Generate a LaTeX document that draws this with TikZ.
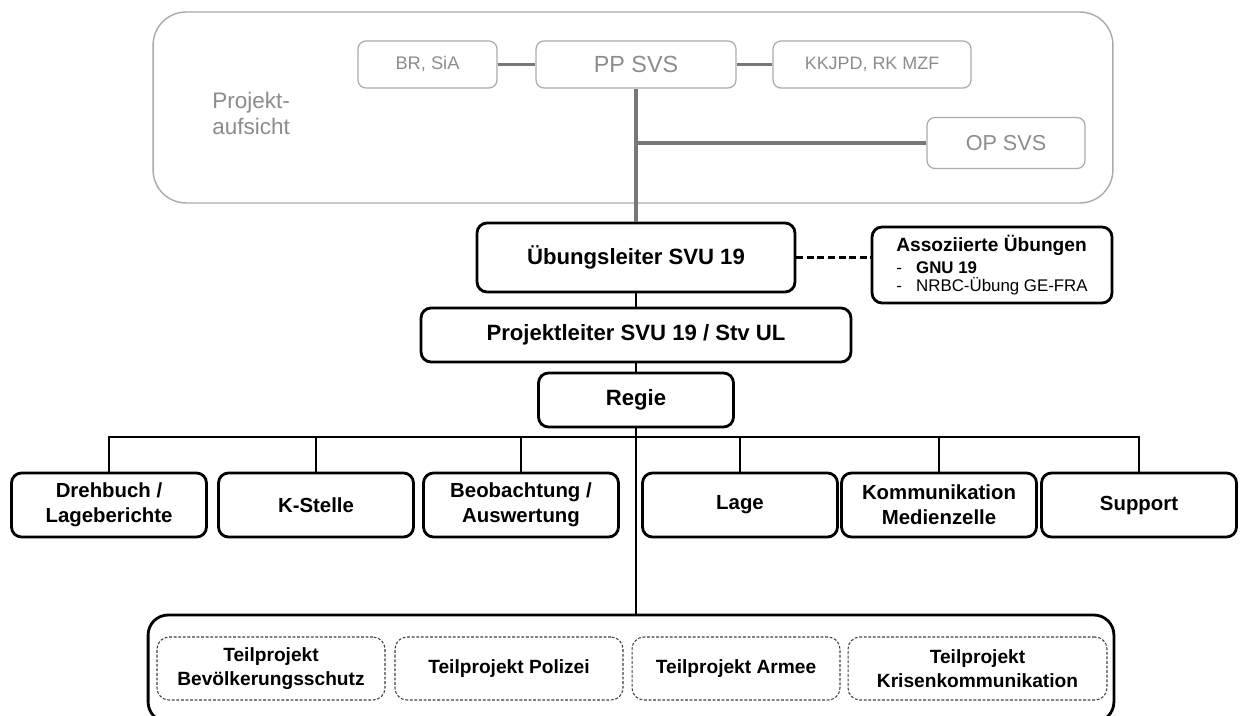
\documentclass[tikz,border=0pt]{standalone}
\usepackage{fontspec}
\setmainfont{Liberation Sans}
\begin{document}
\begin{tikzpicture}[x=0.02cm,y=-0.02cm,
  graybox/.style={draw=g2,line width=0.7pt,rounded corners=0.16cm,text=g3,inner sep=0pt,minimum height=0.94cm},
  grayline/.style={draw=g1,line width=2pt},
  mainbox/.style={draw,line width=1.6pt,rounded corners=0.2cm,inner sep=0pt,font=\bfseries\fontsize{12.6}{15}\selectfont},
  unitbox/.style={mainbox,minimum width=3.9cm,minimum height=1.28cm,align=center,font=\bfseries\fontsize{11.6}{14.2}\selectfont},
  tpbox/.style={draw=black!75,line width=0.6pt,dash pattern=on 1.6pt off 1pt,rounded corners=0.24cm,minimum height=1.26cm,inner sep=0pt,align=center,font=\bfseries\fontsize{10.9}{13.6}\selectfont},
  link/.style={line width=1.6pt}]
\definecolor{g1}{RGB}{120,120,120}
\definecolor{g2}{RGB}{170,170,170}
\definecolor{g3}{RGB}{140,140,140}
\clip (0,0) rectangle (1241,716);

% Projektaufsicht
\node[draw=g2,line width=0.8pt,rounded corners=0.66cm,minimum width=19.2cm,minimum height=3.82cm] (frame) at (633,107.5) {};
\node[anchor=west,align=left,text=g3,inner sep=0pt,font=\fontsize{12.8}{15.3}\selectfont] (aufsicht) at (212,113.5) {Projekt-\\aufsicht};
\node[graybox,minimum width=2.78cm,font=\fontsize{10.4}{12}\selectfont] (br) at (427.5,64.5) {BR, SiA};
\node[graybox,minimum width=4cm,font=\fontsize{13.3}{16}\selectfont] (pp) at (636,64.5) {PP SVS};
\node[graybox,minimum width=3.96cm,font=\fontsize{10.2}{12}\selectfont] (kk) at (872,64.5) {KKJPD, RK MZF};
\node[graybox,minimum width=3.16cm,minimum height=1.02cm,font=\fontsize{12.3}{14}\selectfont] (op) at (1006,143) {OP SVS};

% Leitung
\node[mainbox,minimum width=6.36cm,minimum height=1.38cm] (ul) at (636,257.5) {Übungsleiter SVU 19};
\node[mainbox,minimum width=4.8cm,minimum height=1.52cm,align=left,font=\fontsize{9.6}{10.2}\selectfont] (assoz) at (992,265)
  {{\bfseries\fontsize{10.9}{12}\selectfont Assoziierte Übungen}\\[2pt]
   \makebox[11.3pt][l]{-}\textbf{GNU 19}\\
   \makebox[11.3pt][l]{-}NRBC-Übung GE-FRA};
\node[mainbox,minimum width=8.6cm,minimum height=1.08cm] (pl) at (636,335) {Projektleiter SVU 19 / Stv UL};
\node[mainbox,minimum width=3.9cm,minimum height=1.08cm] (regie) at (636,400) {Regie};

% Bereiche
\node[unitbox] (drehbuch) at (109,505) {Drehbuch /\\Lageberichte};
\node[unitbox] (kstelle) at (316,505) {K-Stelle};
\node[unitbox] (beob) at (521,505) {Beobachtung /\\Auswertung};
\node[unitbox] (lage) at (740,505) {Lage};
\node[unitbox] (komm) at (939,505) {Kommunikation\\Medienzelle};
\node[unitbox] (support) at (1139,505) {Support};

% Teilprojekte
\node[draw,line width=1.6pt,rounded corners=0.4cm,minimum width=19.32cm,minimum height=2.14cm,inner sep=0pt] (teilprojekte) at (631,668.5) {};
\node[tpbox,minimum width=4.56cm] (tpbs) at (271,668.5) {Teilprojekt\\Bevölkerungsschutz};
\node[tpbox,minimum width=4.56cm] (tppol) at (509,668.5) {Teilprojekt Polizei};
\node[tpbox,minimum width=4.16cm] (tparmee) at (736,668.5) {Teilprojekt Armee};
\node[tpbox,minimum width=5.18cm] (tpkk) at (977.5,668.5) {Teilprojekt\\Krisenkommunikation};

% Verbindungen
\coordinate (opjoin) at (pp.south |- op.west);
\coordinate (bus) at (636,437);
\draw[grayline] (br) -- (pp);
\draw[grayline] (pp) -- (kk);
\draw[grayline] (pp.south) -- (ul.north);
\draw[grayline] (opjoin) -- (op.west);
\draw[line width=1.2pt,dash pattern=on 4pt off 2pt] (ul.east) -- (ul.east -| assoz.west);
\draw[link] (ul) -- (pl);
\draw[link] (pl) -- (regie);
\draw[link] (regie.south) -- (regie.south |- teilprojekte.north);
\draw[link] (drehbuch.north) |- (bus) -| (support.north);
\foreach \n in {kstelle,beob,lage,komm}
  \draw[link] (\n.north) -- (\n.north |- bus);
\end{tikzpicture}
\end{document}
